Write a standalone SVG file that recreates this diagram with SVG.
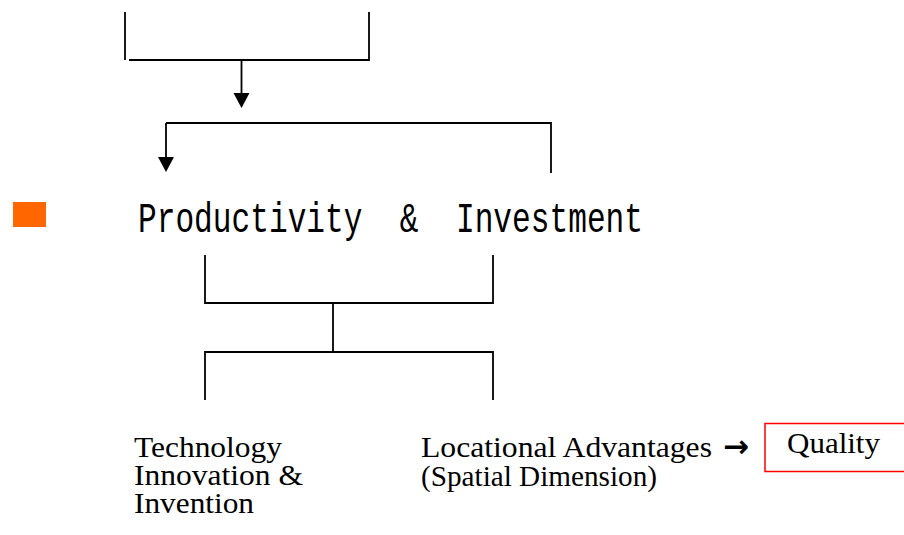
<svg xmlns="http://www.w3.org/2000/svg" width="904" height="535" viewBox="0 0 904 535">
<style>
.ln{stroke:#000;stroke-width:1.8;fill:none}
.ah{fill:#000}
.mono{font-family:"Liberation Mono","DejaVu Sans Mono",monospace;font-size:43px;fill:#000}
.serif{font-family:"Liberation Serif","Times New Roman",serif;font-size:29px;fill:#000}
</style>
<rect width="904" height="535" fill="#fff"/>
<g id="connectors">
<path class="ln" d="M125,12V60M129,60H369M369,12V61M241.5,60V95"/>
<polygon class="ah" points="233.5,93 249.5,93 241.5,108"/>
<path class="ln" d="M166,123H551V173M166,123V158"/>
<polygon class="ah" points="158,157 174,157 166,172"/>
<path class="ln" d="M205,255V303H493V255M333,303V352M205,400V352H493V400"/>
</g>
<g id="bullet">
<rect x="13" y="202" width="33" height="25" fill="#FF6600"/>
</g>
<g id="productivity-investment">
<text class="mono" x="138" y="232" textLength="505" lengthAdjust="spacingAndGlyphs" xml:space="preserve">Productivity  &amp;  Investment</text>
</g>
<g id="technology">
<text class="serif" x="134" y="457" textLength="148" lengthAdjust="spacingAndGlyphs">Technology</text>
<text class="serif" x="134" y="485" textLength="169" lengthAdjust="spacingAndGlyphs">Innovation &amp;</text>
<text class="serif" x="134" y="513" textLength="120" lengthAdjust="spacingAndGlyphs">Invention</text>
</g>
<g id="locational">
<text class="serif" x="421" y="457" textLength="291" lengthAdjust="spacingAndGlyphs">Locational Advantages</text>
<text class="serif" x="421" y="486" textLength="236" lengthAdjust="spacingAndGlyphs">(Spatial Dimension)</text>
<text x="723" y="457" font-family="'DejaVu Sans',sans-serif" font-size="31" font-weight="bold">→</text>
</g>
<g id="quality">
<rect x="765" y="423.5" width="145" height="48" fill="none" stroke="#FF0000" stroke-width="1.5"/>
<text class="serif" x="787" y="453" textLength="93" lengthAdjust="spacingAndGlyphs">Quality</text>
</g>
</svg>
